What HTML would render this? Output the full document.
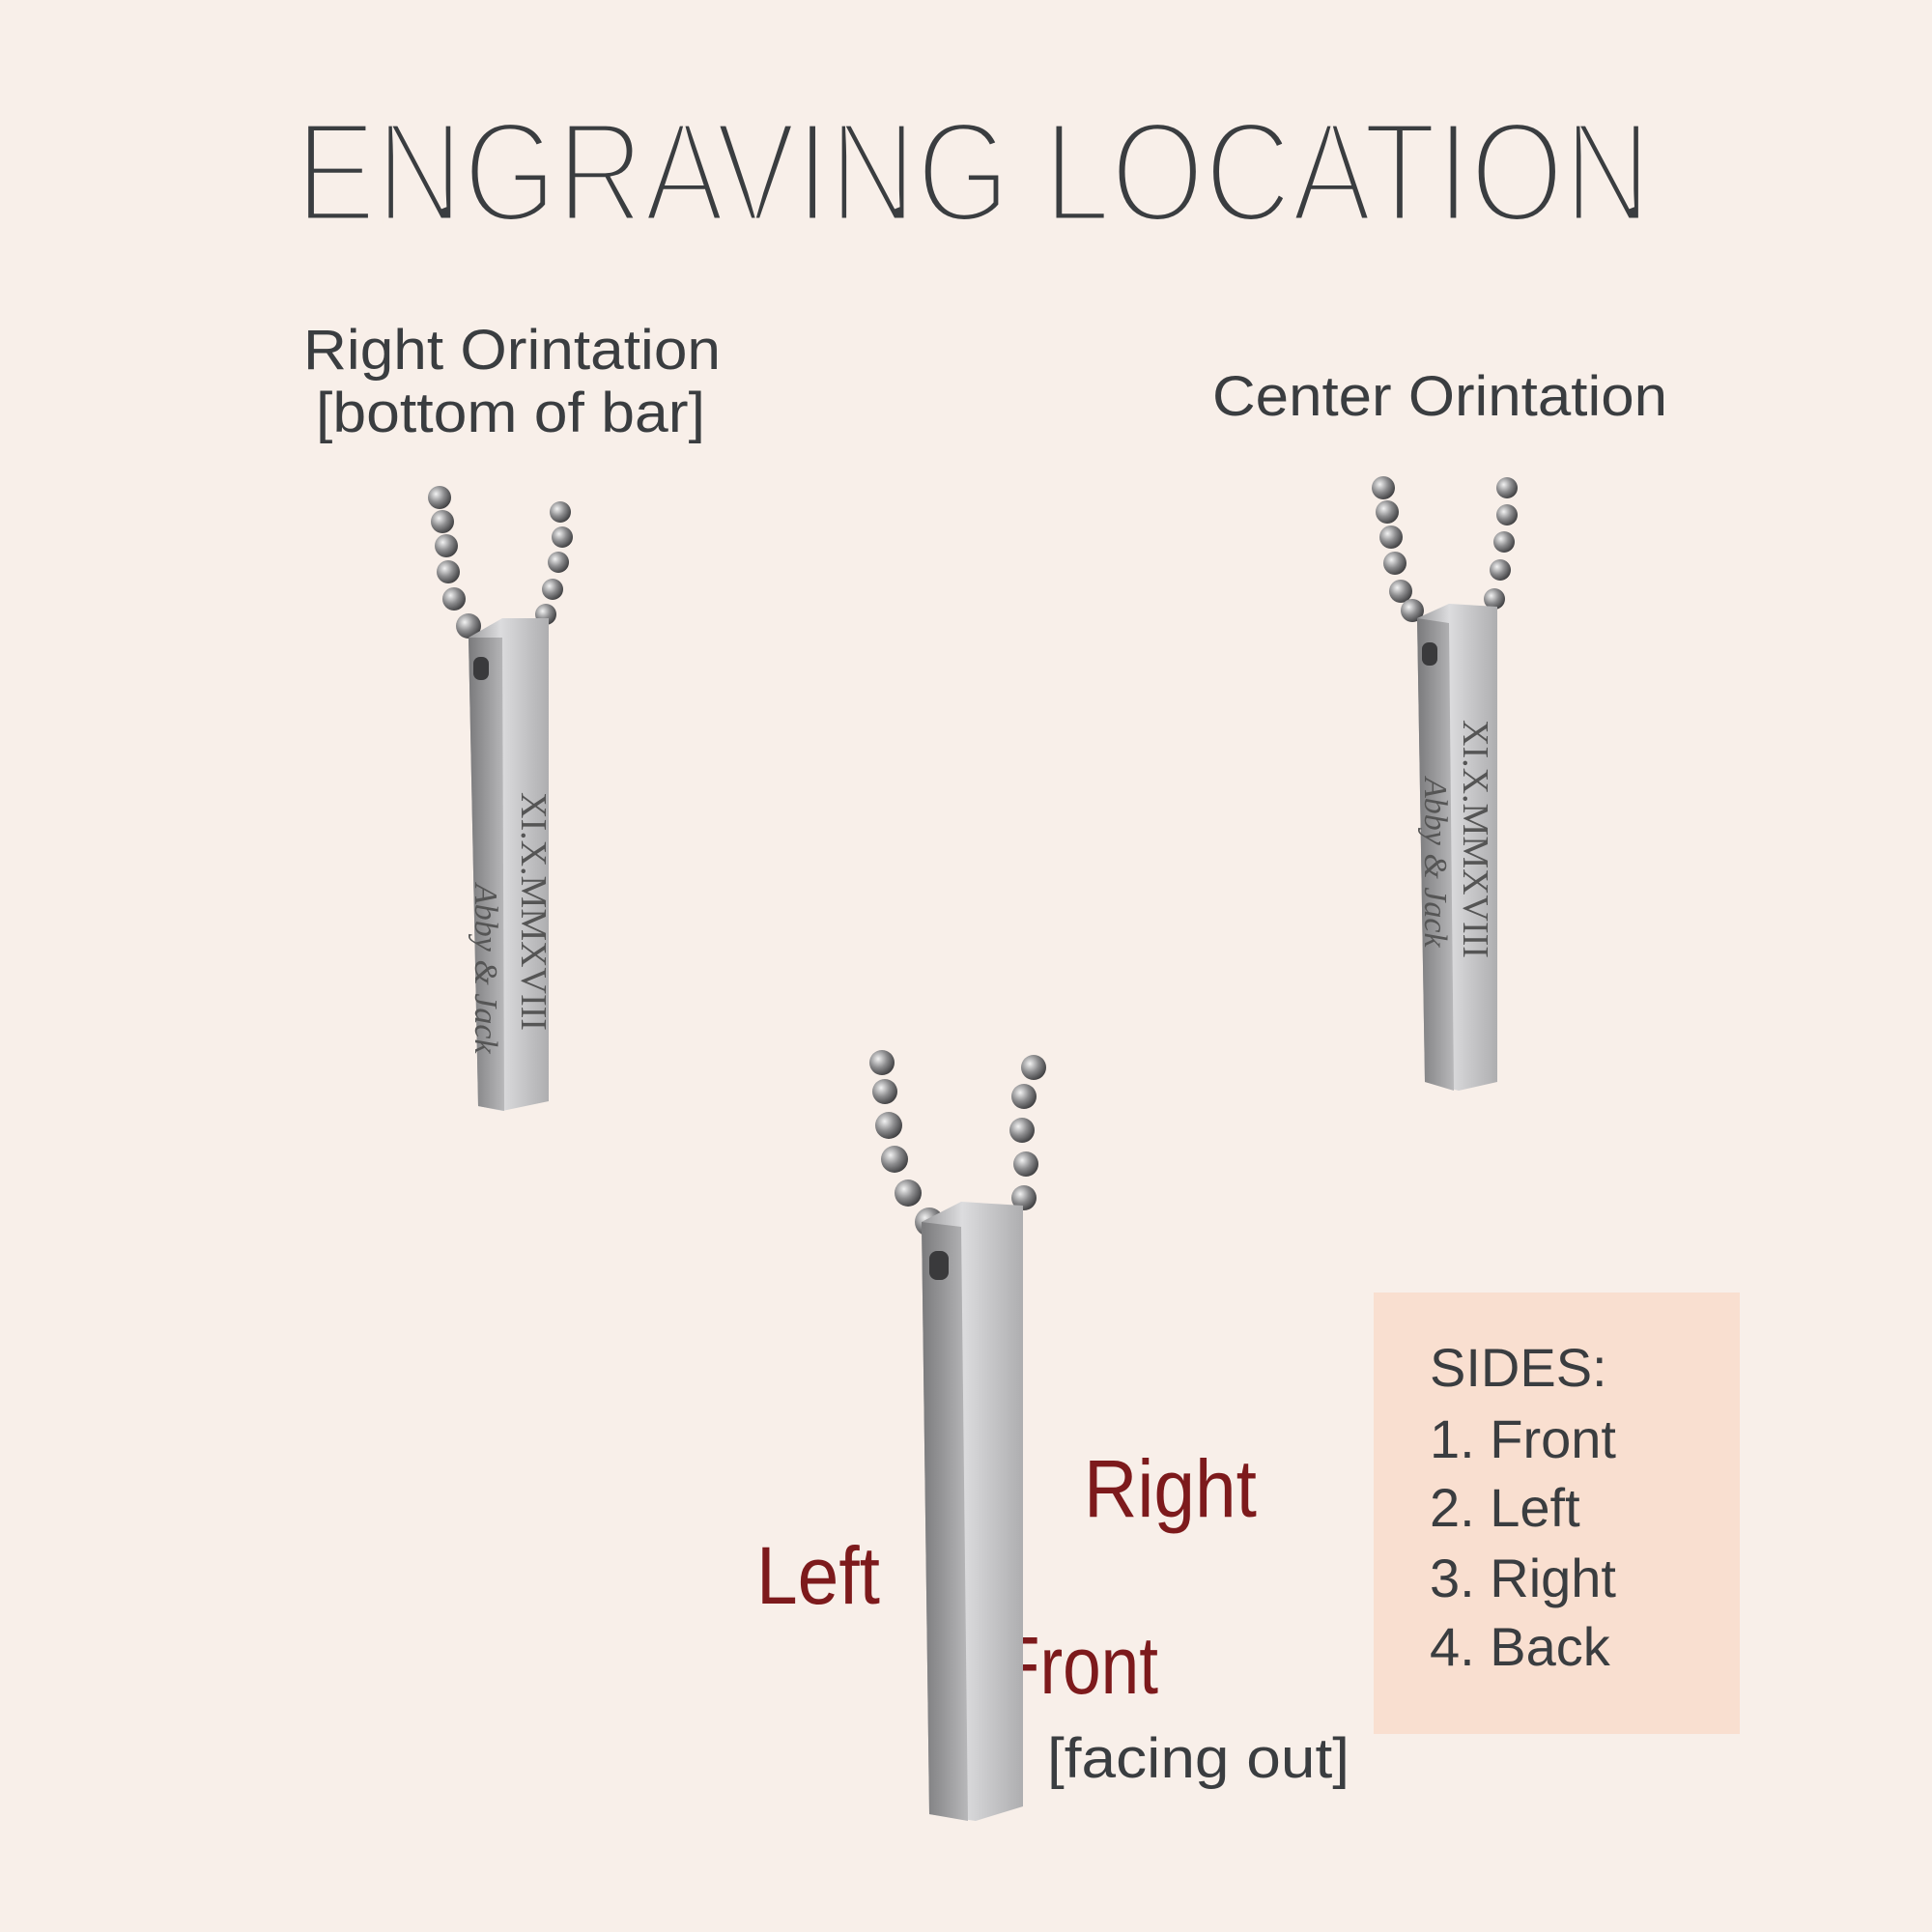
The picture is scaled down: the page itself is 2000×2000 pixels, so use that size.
<!DOCTYPE html>
<html><head><meta charset="utf-8"><style>
html,body{margin:0;padding:0;background:#f8efe9;}
svg{display:block}
</style></head><body>
<svg width="2000" height="2000" viewBox="0 0 2000 2000" xmlns="http://www.w3.org/2000/svg">
<defs>
<linearGradient id="face" x1="0" x2="1" y1="0" y2="0">
<stop offset="0" stop-color="#9a9a9c"/><stop offset="0.4" stop-color="#dcdcde"/><stop offset="1" stop-color="#aeaeb0"/>
</linearGradient>
<linearGradient id="side" x1="0" x2="1" y1="0" y2="0">
<stop offset="0" stop-color="#7a7a7c"/><stop offset="1" stop-color="#b8b8ba"/>
</linearGradient>
<radialGradient id="ball" cx="0.35" cy="0.35" r="0.7">
<stop offset="0" stop-color="#f2f2f2"/><stop offset="0.5" stop-color="#8d8d8f"/><stop offset="1" stop-color="#3e3e40"/>
</radialGradient>
</defs>
<rect width="2000" height="2000" fill="#f8efe9"/>
<text x="306" y="229" font-family="Liberation Sans, sans-serif" font-size="148" fill="#3a3d40" textLength="1403" lengthAdjust="spacingAndGlyphs" stroke="#f8efe9" stroke-width="7">ENGRAVING LOCATION</text>

<g font-family="Liberation Sans, sans-serif" fill="#3a3d40">
<text x="314" y="382" font-size="58" textLength="432" lengthAdjust="spacingAndGlyphs">Right Orintation</text>
<text x="327" y="447" font-size="58" textLength="403" lengthAdjust="spacingAndGlyphs">[bottom of bar]</text>
<text x="1255" y="430" font-size="58" textLength="471" lengthAdjust="spacingAndGlyphs">Center Orintation</text>
<text x="1084" y="1840" font-size="58" textLength="313" lengthAdjust="spacingAndGlyphs">[facing out]</text>
</g>

<g font-family="Liberation Sans, sans-serif" fill="#7d1a1c">
<text x="1122" y="1570" font-size="84" textLength="179" lengthAdjust="spacingAndGlyphs">Right</text>
<text x="783" y="1660" font-size="84" textLength="128" lengthAdjust="spacingAndGlyphs">Left</text>
<text x="1033" y="1753" font-size="84" textLength="166" lengthAdjust="spacingAndGlyphs">Front</text>
</g>

<rect x="1422" y="1338" width="379" height="457" fill="#f9dfd0"/>
<g font-family="Liberation Sans, sans-serif" fill="#3a3d40" font-size="56">
<text x="1480" y="1435">SIDES:</text>
<text x="1480" y="1509">1. Front</text>
<text x="1480" y="1580">2. Left</text>
<text x="1480" y="1653">3. Right</text>
<text x="1480" y="1724">4. Back</text>
</g>

<!-- Left necklace -->
<g fill="url(#ball)">
<circle cx="455" cy="515" r="12"/><circle cx="458" cy="540" r="12"/><circle cx="462" cy="565" r="12"/><circle cx="464" cy="592" r="12"/><circle cx="470" cy="620" r="12"/><circle cx="485" cy="648" r="13"/>
<circle cx="580" cy="530" r="11"/><circle cx="582" cy="556" r="11"/><circle cx="578" cy="582" r="11"/><circle cx="572" cy="610" r="11"/><circle cx="565" cy="636" r="11"/>
</g>
<polygon points="485,660 520,640 568,640 568,1140 520,1150 495,1145" fill="url(#face)"/>
<polygon points="485,660 520,660 522,1150 495,1145" fill="url(#side)"/>
<rect x="490" y="680" width="16" height="24" rx="7" fill="#3a3a3c"/>
<text transform="translate(540,820) rotate(90)" font-family="Liberation Serif, serif" font-size="38" fill="#555">XI.X.MMXVIII</text>
<text transform="translate(492,915) rotate(90)" font-family="Liberation Serif, serif" font-style="italic" font-size="34" fill="#555">Abby &amp; Jack</text>

<!-- Right necklace -->
<g fill="url(#ball)">
<circle cx="1432" cy="505" r="12"/><circle cx="1436" cy="530" r="12"/><circle cx="1440" cy="556" r="12"/><circle cx="1444" cy="583" r="12"/><circle cx="1450" cy="612" r="12"/><circle cx="1462" cy="632" r="12"/>
<circle cx="1560" cy="505" r="11"/><circle cx="1560" cy="533" r="11"/><circle cx="1557" cy="561" r="11"/><circle cx="1553" cy="590" r="11"/><circle cx="1547" cy="620" r="11"/>
</g>
<polygon points="1467,640 1500,625 1550,628 1550,1120 1510,1129 1475,1120" fill="url(#face)"/>
<polygon points="1467,640 1500,645 1505,1129 1475,1120" fill="url(#side)"/>
<rect x="1472" y="665" width="16" height="24" rx="7" fill="#3a3a3c"/>
<text transform="translate(1515,745) rotate(90)" font-family="Liberation Serif, serif" font-size="38" fill="#555">XI.X.MMXVIII</text>
<text transform="translate(1475,805) rotate(90)" font-family="Liberation Serif, serif" font-style="italic" font-size="34" fill="#555">Abby &amp; Jack</text>

<!-- Center necklace -->
<g fill="url(#ball)">
<circle cx="913" cy="1100" r="13"/><circle cx="916" cy="1130" r="13"/><circle cx="920" cy="1165" r="14"/><circle cx="926" cy="1200" r="14"/><circle cx="940" cy="1235" r="14"/><circle cx="962" cy="1265" r="15"/>
<circle cx="1070" cy="1105" r="13"/><circle cx="1060" cy="1135" r="13"/><circle cx="1058" cy="1170" r="13"/><circle cx="1062" cy="1205" r="13"/><circle cx="1060" cy="1240" r="13"/>
</g>
<polygon points="954,1265 995,1244 1059,1248 1059,1870 1010,1885 962,1878" fill="url(#face)"/>
<polygon points="954,1265 995,1270 1002,1885 962,1878" fill="url(#side)"/>
<rect x="962" y="1295" width="20" height="30" rx="8" fill="#3a3a3c"/>
</svg>
</body></html>
